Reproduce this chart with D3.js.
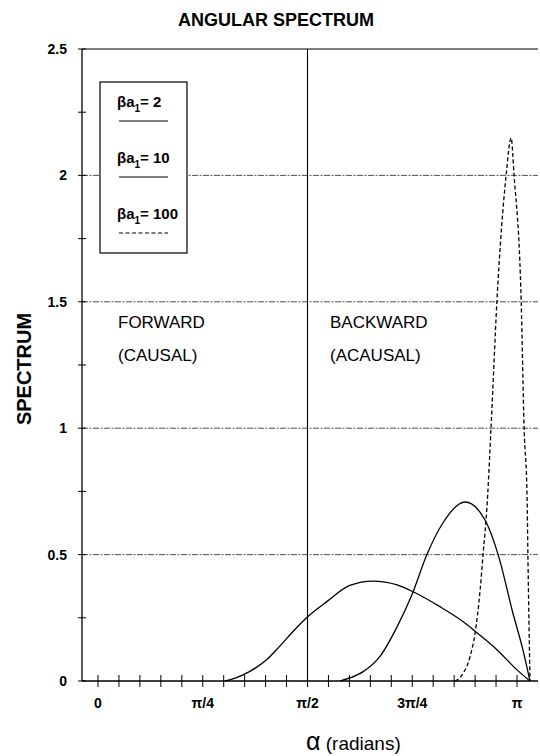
<!DOCTYPE html>
<html lang="en">
<head>
    <meta charset="UTF-8">
    <title>Angular Spectrum</title>
    <script src="https://d3js.org/d3.v7.min.js"></script>
    <style>
        body { margin: 0; background: #fff; }
        svg { display: block; font-family: "Liberation Sans", Arial, sans-serif; }
    </style>
</head>
<body>
    <svg id="chart" width="540" height="756"></svg>
    <script>
        const alpha2  = [0.303, 0.322, 0.346, 0.379, 0.403, 0.434, 0.465, 0.501, 0.547, 0.601, 0.656, 0.714, 0.752, 0.816, 0.871, 0.905, 0.952, 1.000, 1.031];
        const spec2   = [0, 0.008, 0.024, 0.055, 0.085, 0.138, 0.195, 0.255, 0.315, 0.378, 0.395, 0.380, 0.353, 0.294, 0.235, 0.190, 0.124, 0.044, 0];
        const alpha10 = [0.578, 0.601, 0.632, 0.673, 0.714, 0.749, 0.785, 0.823, 0.876, 0.924, 0.955, 0.990, 1.014, 1.031];
        const spec10  = [0, 0.012, 0.036, 0.097, 0.215, 0.340, 0.500, 0.625, 0.708, 0.636, 0.500, 0.270, 0.124, 0];
        const alpha100 = [0.852, 0.869, 0.888, 0.900, 0.912, 0.919, 0.928, 0.938, 0.952, 0.974, 0.986, 0.993, 1.010, 1.017, 1.024, 1.026, 1.031];
        const spec100  = [0, 0.024, 0.097, 0.190, 0.360, 0.500, 0.680, 1.000, 1.500, 2.000, 2.148, 2.000, 1.500, 1.000, 0.730, 0.500, 0];

        const xTickLabels = ["0", "\u03c0/4", "\u03c0/2", "3\u03c0/4", "\u03c0"];
        const yTickValues = [0, 0.5, 1, 1.5, 2, 2.5];
        const legendLabels = ["2", "10", "100"];

        const svg = d3.select("#chart");
        const plotLeft = 82, plotRight = 538, plotTop = 49, plotBottom = 681;

        const x = d3.scaleLinear().domain([0, Math.PI]).range([98, 517]);
        const y = d3.scaleLinear().domain([0, 2.5]).range([plotBottom, plotTop]);

        // title
        svg.append("text")
            .attr("x", 276).attr("y", 26)
            .attr("text-anchor", "middle")
            .attr("font-size", 18).attr("font-weight", "bold")
            .text("ANGULAR SPECTRUM");

        // grid lines
        svg.append("g").selectAll("line")
            .data([0.5, 1, 1.5, 2])
            .join("line")
            .attr("x1", plotLeft).attr("x2", plotRight)
            .attr("y1", d => y(d)).attr("y2", d => y(d))
            .attr("stroke", "#222").attr("stroke-width", 0.8)
            .attr("stroke-dasharray", "6,1.5,2,1.5");

        // top frame line
        svg.append("line")
            .attr("x1", plotLeft).attr("x2", plotRight)
            .attr("y1", y(2.5)).attr("y2", y(2.5))
            .attr("stroke", "#000").attr("stroke-width", 1);

        // divider at pi/2
        svg.append("line")
            .attr("x1", x(Math.PI / 2)).attr("x2", x(Math.PI / 2))
            .attr("y1", y(2.5)).attr("y2", y(0))
            .attr("stroke", "#000").attr("stroke-width", 1.1);

        // y axis with ticks on both sides
        const yAxis = svg.append("g").attr("transform", `translate(${plotLeft},0)`);
        yAxis.append("line").attr("y1", y(2.5)).attr("y2", y(0)).attr("stroke", "#000").attr("stroke-width", 1.3);
        yAxis.selectAll("line.tick")
            .data(d3.range(0, 2.51, 0.25))
            .join("line").attr("class", "tick")
            .attr("x1", -4).attr("x2", 4)
            .attr("y1", d => y(d)).attr("y2", d => y(d))
            .attr("stroke", "#000").attr("stroke-width", 1);
        yAxis.selectAll("text")
            .data(yTickValues)
            .join("text")
            .attr("x", -15).attr("y", d => y(d) + 5)
            .attr("text-anchor", "end")
            .attr("font-size", 14).attr("font-weight", "bold")
            .text(d => d);

        // x axis
        const xAxis = svg.append("g").attr("transform", `translate(0,${plotBottom})`);
        xAxis.append("line").attr("x1", plotLeft).attr("x2", plotRight).attr("stroke", "#000").attr("stroke-width", 1.6);
        xAxis.selectAll("line.tick")
            .data(d3.range(0, 21).map(i => i * Math.PI / 20))
            .join("line").attr("class", "tick")
            .attr("x1", d => x(d)).attr("x2", d => x(d))
            .attr("y1", -6).attr("y2", 6)
            .attr("stroke", "#000").attr("stroke-width", 1);
        xAxis.selectAll("text")
            .data(xTickLabels)
            .join("text")
            .attr("x", (d, i) => x(i * Math.PI / 4)).attr("y", 27)
            .attr("text-anchor", "middle")
            .attr("font-size", 14).attr("font-weight", "bold")
            .text(d => d);

        // axis titles
        svg.append("text")
            .attr("transform", "translate(31,369) rotate(-90)")
            .attr("text-anchor", "middle")
            .attr("font-size", 20).attr("font-weight", "bold")
            .text("SPECTRUM");
        const xt = svg.append("text")
            .attr("x", 306).attr("y", 750)
            .attr("font-size", 19);
        xt.append("tspan").attr("font-size", 25).text("\u03b1");
        xt.append("tspan").text(" (radians)");

        // region labels
        const regions = [
            { x: 118, lines: ["FORWARD", "(CAUSAL)"] },
            { x: 330, lines: ["BACKWARD", "(ACAUSAL)"] }
        ];
        regions.forEach(r => {
            r.lines.forEach((t, i) => {
                svg.append("text")
                    .attr("x", r.x).attr("y", 328 + i * 33)
                    .attr("font-size", 17)
                    .text(t);
            });
        });

        // curves
        const line = d3.line()
            .x(d => x(d[0] * Math.PI))
            .y(d => y(d[1]))
            .curve(d3.curveMonotoneX);

        const series = [
            { a: alpha2, s: spec2, dash: null },
            { a: alpha10, s: spec10, dash: null },
            { a: alpha100, s: spec100, dash: "4,2.5" }
        ];
        series.forEach(sr => {
            svg.append("path")
                .datum(d3.zip(sr.a, sr.s))
                .attr("d", line)
                .attr("fill", "none")
                .attr("stroke", "#000")
                .attr("stroke-width", 1.3)
                .attr("stroke-dasharray", sr.dash);
        });

        // legend
        const lg = svg.append("g");
        lg.append("rect")
            .attr("x", 100).attr("y", 82).attr("width", 87).attr("height", 171)
            .attr("fill", "#fff").attr("stroke", "#000").attr("stroke-width", 1.2);
        legendLabels.forEach((lab, i) => {
            const yy = 107 + i * 56;
            const t = lg.append("text")
                .attr("x", 117).attr("y", yy)
                .attr("font-size", 15).attr("font-weight", "bold");
            t.append("tspan").text("\u03b2a");
            t.append("tspan").attr("font-size", 10).attr("dy", 5).text("1");
            t.append("tspan").attr("dy", -5).text("= " + lab);
            lg.append("line")
                .attr("x1", 119).attr("x2", 168)
                .attr("y1", yy + 14).attr("y2", yy + 14)
                .attr("stroke", "#000").attr("stroke-width", 1.2)
                .attr("stroke-dasharray", i === 2 ? "4,2.5" : null);
        });
    </script>
</body>
</html>
